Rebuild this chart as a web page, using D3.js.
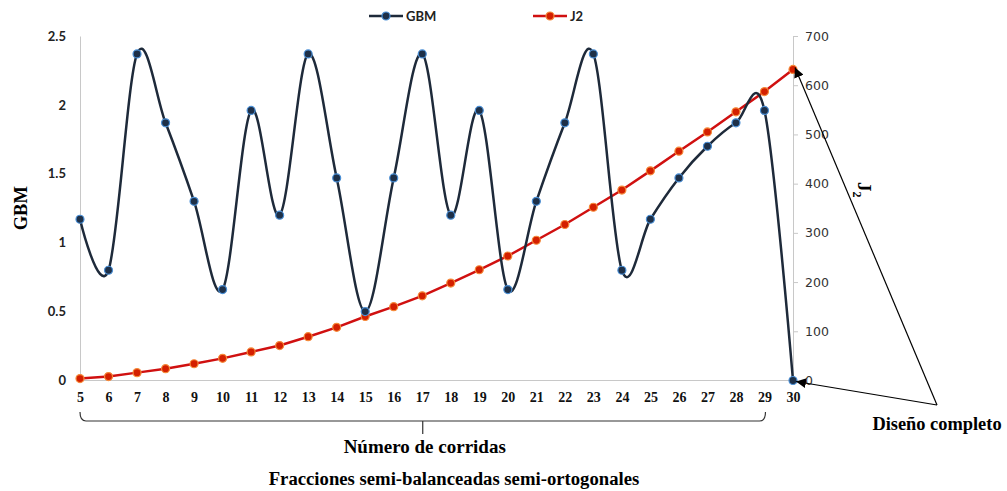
<!DOCTYPE html>
<html>
<head>
<meta charset="utf-8">
<script src="https://cdn.jsdelivr.net/npm/d3@7"></script>
<style>
  body { margin: 0; background: #fff; }
  svg { display: block; }
</style>
</head>
<body>
<script>
// number of runs (x categories)
const runs = d3.range(5, 31);
const gbm = [1.17, 0.80, 2.37, 1.87, 1.30, 0.66, 1.96, 1.20, 2.37, 1.47, 0.50, 1.47, 2.37,
             1.20, 1.96, 0.66, 1.30, 1.87, 2.37, 0.80, 1.17, 1.47, 1.70, 1.87, 1.96, 0];
const j2 = [4, 8, 16, 24, 34, 45, 58, 71, 89, 108, 130, 150, 172, 198, 225, 253, 285, 317,
            352, 387, 426, 466, 505, 546, 587, 632];
const leftTicks = [0, 0.5, 1, 1.5, 2, 2.5];
const rightTicks = [0, 100, 200, 300, 400, 500, 600, 700];

const width = 1007, height = 491;
const svg = d3.select("body").append("svg")
    .attr("width", width)
    .attr("height", height);

const x = d3.scaleLinear().domain([5, 30]).range([80, 793]);
const yL = d3.scaleLinear().domain([0, 2.5]).range([380.5, 36]);
const yR = d3.scaleLinear().domain([0, 700]).range([380.5, 36]);

svg.append("defs").append("marker")
    .attr("id", "arrow")
    .attr("viewBox", "0 0 10 10")
    .attr("refX", 10).attr("refY", 5)
    .attr("markerWidth", 10).attr("markerHeight", 10)
    .attr("markerUnits", "userSpaceOnUse")
    .attr("orient", "auto")
    .append("path")
    .attr("d", "M0,0 L10,5 L0,10 Z")
    .attr("fill", "#000");

// baseline and left axis
svg.append("line")
    .attr("x1", x(5)).attr("x2", x(30))
    .attr("y1", yL(0)).attr("y2", yL(0))
    .attr("stroke", "#c8c8c8").attr("stroke-width", 1);

const leftAxis = svg.append("g")
    .attr("transform", `translate(${x(5)},0)`)
    .call(d3.axisLeft(yL).tickValues(leftTicks).tickSize(0).tickPadding(14).tickFormat(d3.format("")));
leftAxis.select(".domain").attr("stroke", "#c8c8c8");
leftAxis.selectAll("text")
    .style("font-family", "Lato, 'Open Sans', sans-serif")
    .style("font-weight", "bold")
    .style("font-size", "13px")
    .attr("fill", "#222");

const rightAxis = svg.append("g")
    .attr("transform", `translate(${x(30)},0)`)
    .call(d3.axisRight(yR).tickValues(rightTicks).tickSize(5).tickPadding(7));
rightAxis.selectAll(".domain, line").attr("stroke", "#c8c8c8");
rightAxis.selectAll("text")
    .style("font-family", "'DejaVu Sans', sans-serif")
    .style("font-size", "12.5px")
    .attr("fill", "#333");

const bottomAxis = svg.append("g")
    .attr("transform", `translate(0,${yL(0)})`)
    .call(d3.axisBottom(x).tickValues(runs).tickSize(0).tickPadding(12).tickFormat(d3.format("d")));
bottomAxis.select(".domain").remove();
bottomAxis.selectAll("text")
    .style("font-family", "'Liberation Serif', 'Times New Roman', serif")
    .style("font-weight", "bold")
    .style("font-size", "14px")
    .attr("fill", "#111");

// series lines
const gbmLine = d3.line()
    .x((d, i) => x(runs[i]))
    .y(d => yL(d))
    .curve(d3.curveCatmullRom.alpha(0));

const j2Line = d3.line()
    .x((d, i) => x(runs[i]))
    .y(d => yR(d));

svg.append("path")
    .datum(j2)
    .attr("d", j2Line)
    .attr("fill", "none")
    .attr("stroke", "#d01010")
    .attr("stroke-width", 2.5);

svg.append("path")
    .datum(gbm)
    .attr("d", gbmLine)
    .attr("fill", "none")
    .attr("stroke", "#1e2a3a")
    .attr("stroke-width", 2.5);

svg.selectAll("circle.j2")
    .data(j2)
    .enter()
    .append("circle")
    .attr("class", "j2")
    .attr("cx", (d, i) => x(runs[i]))
    .attr("cy", d => yR(d))
    .attr("r", 4)
    .attr("fill", "#d42000")
    .attr("stroke", "#f58a3a")
    .attr("stroke-width", 1.2);

svg.selectAll("circle.gbm")
    .data(gbm)
    .enter()
    .append("circle")
    .attr("class", "gbm")
    .attr("cx", (d, i) => x(runs[i]))
    .attr("cy", d => yL(d))
    .attr("r", 4)
    .attr("fill", "#1e3048")
    .attr("stroke", "#4a8fd6")
    .attr("stroke-width", 1.2);

// legend
const legendItems = [
    { name: "GBM", x: 369, line: "#1e2a3a", fill: "#1e3048", ring: "#4a8fd6" },
    { name: "J2", x: 533, line: "#d01010", fill: "#d42000", ring: "#f58a3a" }
];
const legend = svg.selectAll("g.legend")
    .data(legendItems)
    .enter()
    .append("g")
    .attr("class", "legend")
    .attr("transform", d => `translate(${d.x},16)`);
legend.append("line")
    .attr("x1", 0).attr("x2", 34)
    .attr("stroke", d => d.line).attr("stroke-width", 2.5);
legend.append("circle")
    .attr("cx", 17).attr("r", 4)
    .attr("fill", d => d.fill)
    .attr("stroke", d => d.ring).attr("stroke-width", 1.2);
legend.append("text")
    .attr("x", 37).attr("dy", "0.35em")
    .style("font-family", "Lato, 'Open Sans', sans-serif")
    .style("font-weight", "bold")
    .style("font-size", "13px")
    .attr("fill", "#222")
    .text(d => d.name);

// axis titles
const serif = "'Liberation Serif', 'Times New Roman', serif";
svg.append("text")
    .attr("transform", `translate(27,${(yL(0) + yL(2.5)) / 2}) rotate(-90)`)
    .attr("text-anchor", "middle")
    .style("font-family", serif)
    .style("font-weight", "bold")
    .style("font-size", "18.5px")
    .text("GBM");

const j2Title = svg.append("text")
    .attr("transform", "translate(858,182) rotate(90)")
    .style("font-family", serif)
    .style("font-weight", "bold")
    .style("font-size", "19px");
j2Title.append("tspan").text("J");
j2Title.append("tspan").attr("dy", 5).style("font-size", "12px").text("2");

// bracket under runs 5..29
const bx0 = x(5), bx1 = x(29) + 1, bmid = (bx0 + bx1) / 2;
svg.append("path")
    .attr("d", `M${bx0},412 Q${bx0},421 ${bx0 + 6},421 L${bx1 - 6},421 Q${bx1},421 ${bx1},412 M${bmid},421 L${bmid},434`)
    .attr("fill", "none")
    .attr("stroke", "#333")
    .attr("stroke-width", 1.2);

svg.append("text")
    .attr("x", bmid + 2).attr("y", 452.5)
    .attr("text-anchor", "middle")
    .style("font-family", serif)
    .style("font-weight", "bold")
    .style("font-size", "19px")
    .text("Número de corridas");

svg.append("text")
    .attr("x", 454).attr("y", 485)
    .attr("text-anchor", "middle")
    .style("font-family", serif)
    .style("font-weight", "bold")
    .style("font-size", "18.7px")
    .text("Fracciones semi-balanceadas semi-ortogonales");

// "Diseño completo" callout
const apex = [937, 405];
svg.selectAll("line.callout")
    .data([[x(30) + 2, yR(j2[j2.length - 1]) - 2], [x(30) + 3, yL(0) + 1]])
    .enter()
    .append("line")
    .attr("class", "callout")
    .attr("x1", apex[0]).attr("y1", apex[1])
    .attr("x2", d => d[0]).attr("y2", d => d[1])
    .attr("stroke", "#000")
    .attr("stroke-width", 1.2)
    .attr("marker-end", "url(#arrow)");

svg.append("text")
    .attr("x", 937).attr("y", 430)
    .attr("text-anchor", "middle")
    .style("font-family", serif)
    .style("font-weight", "bold")
    .style("font-size", "18.4px")
    .text("Diseño completo");
</script>
</body>
</html>
